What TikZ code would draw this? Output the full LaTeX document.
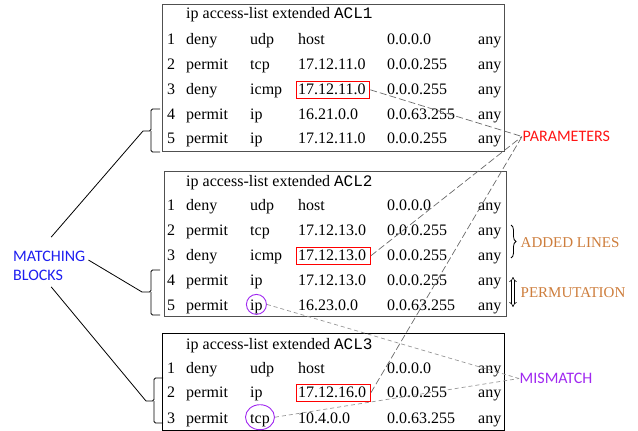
\documentclass[tikz,border=0pt]{standalone}
\usepackage{fontspec}
\setmainfont{Liberation Serif}
\newfontfamily\aclmono{Liberation Mono}
\newfontfamily\lblsans{Carlito}
\usetikzlibrary{fit,decorations.pathreplacing,arrows.meta,shapes.geometric}
\definecolor{paramred}{RGB}{255,20,20}
\definecolor{blockblue}{RGB}{30,30,240}
\definecolor{addorange}{RGB}{205,125,60}
\definecolor{mispurple}{RGB}{160,40,240}
\definecolor{pgray}{RGB}{105,105,105}
\definecolor{mgray}{RGB}{150,150,150}
\definecolor{framegray}{RGB}{80,80,80}
\tikzset{
  txt/.style={anchor=base west, inner sep=0pt, font=\fontsize{16}{19}\selectfont},
  frame/.style={draw=framegray, line width=1pt, anchor=north west, inner sep=0pt},
  redbox/.style={draw=red, line width=0.9pt, inner xsep=3pt, inner ysep=3pt, yshift=-1pt, xshift=1pt},
  ring/.style={draw=mispurple, line width=0.9pt, inner sep=0pt},
  pline/.style={draw=pgray, dash pattern=on 7pt off 3pt, line width=0.7pt},
  mline/.style={draw=mgray, dash pattern=on 4pt off 3pt, line width=0.7pt},
  blk/.style={line width=0.8pt, rounded corners=1.5pt},
  conn/.style={line width=0.8pt},
  lblsf/.style={anchor=west, inner sep=0.5pt, font=\lblsans\fontsize{16}{19}\selectfont},
  lblsr/.style={anchor=west, inner sep=0.5pt, font=\fontsize{15}{18}\selectfont},
}
\newcommand\aclrow[7]{%
  \node[txt] (#1n) at (167,#2) {#3};
  \node[txt] (#1a) at (186,#2) {#4};
  \node[txt] (#1p) at (250,#2) {#5};
  \node[txt] (#1d) at (298,#2) {#6};
  \node[txt] (#1m) at (387,#2) {#7};
  \node[txt] (#1y) at (478,#2) {any};
}
\newcommand\acltitle[3]{%
  \node[txt] (#1) at (186,#2) {ip access-list extended {\aclmono #3}};
}
\begin{document}
\begin{tikzpicture}[x=1pt,y=-1pt]
\useasboundingbox (0,0) rectangle (638,431);

% frames
\node[frame, minimum width=342pt, minimum height=147pt] (acl1) at (162,4) {};
\node[frame, minimum width=342pt, minimum height=145pt] (acl2) at (164,171) {};
\node[frame, draw=black, minimum width=342pt, minimum height=97pt] (acl3) at (162,333) {};

% ACL1
\acltitle{a0}{19}{ACL1}
\aclrow{a1}{44}{1}{deny}{udp}{host}{0.0.0.0}
\aclrow{a2}{69}{2}{permit}{tcp}{17.12.11.0}{0.0.0.255}
\aclrow{a3}{94}{3}{deny}{icmp}{17.12.11.0}{0.0.0.255}
\aclrow{a4}{119}{4}{permit}{ip}{16.21.0.0}{0.0.63.255}
\aclrow{a5}{143}{5}{permit}{ip}{17.12.11.0}{0.0.0.255}

% ACL2
\acltitle{b0}{186}{ACL2}
\aclrow{b1}{210}{1}{deny}{udp}{host}{0.0.0.0}
\aclrow{b2}{235}{2}{permit}{tcp}{17.12.13.0}{0.0.0.255}
\aclrow{b3}{260}{3}{deny}{icmp}{17.12.13.0}{0.0.0.255}
\aclrow{b4}{285}{4}{permit}{ip}{17.12.13.0}{0.0.0.255}
\aclrow{b5}{310}{5}{permit}{ip}{16.23.0.0}{0.0.63.255}

% ACL3
\acltitle{c0}{349}{ACL3}
\aclrow{c1}{373}{1}{deny}{udp}{host}{0.0.0.0}
\aclrow{c2}{397}{2}{permit}{ip}{17.12.16.0}{0.0.0.255}
\aclrow{c3}{423}{3}{permit}{tcp}{10.4.0.0}{0.0.63.255}

% red parameter boxes
\node[redbox, fit=(a3d)] (ra) {};
\node[redbox, fit=(b3d)] (rb) {};
\node[redbox, fit=(c2d)] (rc) {};

% purple mismatch rings
\node[ring, circle, minimum size=20pt] (ca) at ([yshift=2pt]b5p.center) {};
\node[ring, ellipse, minimum width=29pt, minimum height=25pt] (cb) at ([yshift=3pt]c3p.center) {};

% right labels
\node[lblsf, text=paramred] (par) at (522,136.5) {PARAMETERS};
\node[lblsr, text=addorange] (add) at (520,243) {ADDED LINES};
\node[lblsr, text=addorange] (perm) at (520,292.5) {PERMUTATION};
\node[lblsf, text=mispurple] (mis) at (519,378.5) {MISMATCH};

% parameter links
\draw[pline] (ra.east) -- (par.west);
\draw[pline] (rb.east) -- (par.west);
\draw[pline] (rc.east) -- (par.west);

% mismatch links
\draw[mline] (ca.east) -- (mis.west);
\draw[mline] (cb.east) -- (mis.west);

% added lines brace
\coordinate (bt) at (511,225);
\coordinate (bb) at (511,258);
\draw[line width=0.8pt, decorate, decoration={brace, amplitude=5pt}] (bt) -- (bb);

% permutation double arrow
\coordinate (pt) at (513,277);
\coordinate (pb) at (513,307);
\draw[double distance=2pt, line width=0.6pt, {Implies}-{Implies}] (pt) -- (pb);

% left brackets
\coordinate (ta) at (143,131);
\draw[blk] (160,109) -- (151,109) -- (151,131) -- (ta);
\draw[blk] (160,152) -- (151,152) -- (151,131);
\coordinate (tb) at (142,292);
\draw[blk] (160,270) -- (151,270) -- (151,292) -- (tb);
\draw[blk] (160,315) -- (151,315) -- (151,292);
\coordinate (tc) at (146,401);
\draw[blk] (163,378) -- (154,378) -- (154,401) -- (tc);
\draw[blk] (163,423) -- (154,423) -- (154,401);

% matching blocks label
\node[anchor=west, inner sep=0pt, align=left, text=blockblue,
      font=\lblsans\fontsize{16}{19}\selectfont] (mb) at (13,266) {MATCHING\\BLOCKS};
\draw[conn] ([xshift=2pt,yshift=14pt]mb.north) -- (ta);
\draw[conn] ([xshift=3pt,yshift=-9pt]mb.north east) -- (tb);
\draw[conn] ([xshift=2pt,yshift=-6pt]mb.south) -- (tc);
\end{tikzpicture}
\end{document}
